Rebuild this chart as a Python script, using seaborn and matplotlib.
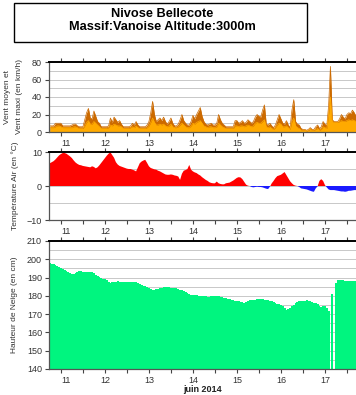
import numpy as np
import pandas as pd
import matplotlib
matplotlib.use("Agg")
import matplotlib.pyplot as plt
from matplotlib.patches import Rectangle
import seaborn as sns

# ---------------- data (hourly, hours counted from 11 June 2014 00:00) ----------------
hours = list(range(6, 174))

wind_max = [
    7, 7, 7, 10, 10, 10, 10, 7, 7, 7, 7, 7, 8, 9, 9, 7, 6, 6, 6,            # h6-24
    14, 22, 27, 16, 15, 24, 18, 12, 10, 6, 6, 6, 6, 7, 16, 11, 17, 14, 11, 13, 9, 6, 6, 6,  # h25-48
    6, 7, 10, 8, 12, 8, 6, 6, 6, 6, 8, 12, 22, 35, 20, 12, 14, 16, 13, 17, 12, 9, 12, 16,   # h49-72
    10, 7, 7, 9, 14, 20, 13, 10, 8, 8, 12, 19, 15, 20, 24, 28, 18, 12, 9, 8, 9, 10, 8, 8,   # h73-96
    10, 20, 14, 10, 8, 6, 6, 6, 6, 6, 13, 13, 10, 11, 13, 10, 11, 14, 12, 10, 12, 17, 20, 18,  # h97-120
    17, 25, 31, 9, 8, 10, 7, 5, 8, 14, 20, 15, 10, 9, 13, 8, 5, 25, 37, 12, 9, 8, 4, 3,     # h121-144
    3, 2, 3, 5, 3, 3, 6, 8, 4, 6, 12, 9, 7, 30, 75, 14, 12, 12, 12, 15, 20, 17, 15, 20,     # h145-168
    22, 21, 25, 22, 18,                                                                      # h169-173
]
wind_mean = [
    5, 5, 5, 6, 7, 7, 6, 5, 5, 5, 5, 5, 5, 6, 6, 5, 4, 4, 4,
    7, 11, 13, 9, 9, 12, 10, 8, 6, 4, 4, 4, 4, 5, 8, 7, 9, 8, 7, 7, 6, 4, 4, 4,
    4, 5, 6, 5, 7, 5, 4, 4, 4, 4, 5, 7, 11, 16, 11, 8, 8, 9, 8, 9, 7, 6, 7, 9,
    6, 5, 5, 6, 8, 10, 8, 6, 5, 5, 7, 10, 9, 11, 12, 13, 10, 7, 6, 5, 6, 6, 5, 5,
    6, 10, 8, 6, 5, 4, 4, 4, 4, 4, 7, 7, 6, 7, 7, 6, 7, 8, 7, 6, 7, 10, 11, 10,
    10, 12, 14, 6, 5, 6, 4, 3, 5, 8, 10, 9, 6, 6, 7, 5, 3, 12, 16, 7, 5, 4, 2, 2,
    2, 1, 2, 3, 2, 2, 3, 4, 2, 3, 6, 5, 4, 20, 40, 12, 11, 11, 11, 12, 13, 12, 12, 13,
    14, 13, 14, 13, 12,
]
temperature = [
    6.7, 7.0, 7.3, 7.8, 8.4, 9.0, 9.4, 9.7, 9.7, 9.5, 9.1, 8.7, 8.2, 7.5, 6.9, 6.5, 6.2, 6.1, 5.9,
    5.8, 5.7, 5.6, 5.5, 5.8, 5.6, 5.2, 5.5, 6.1, 6.8, 7.5, 8.2, 8.9, 9.5, 9.9, 9.1, 8.3, 7.0, 6.3, 5.9, 5.7, 5.5, 5.3, 5.1,
    5.0, 5.0, 4.8, 4.6, 4.3, 5.5, 6.7, 7.2, 7.5, 7.7, 6.8, 5.8, 5.3, 5.1, 4.9, 4.8, 4.5, 4.3, 4.0, 3.7, 3.4, 3.3, 3.3, 3.4,
    3.3, 3.1, 3.0, 2.8, 1.8, 3.6, 4.5, 4.7, 5.0, 6.2, 4.8, 4.3, 4.0, 3.8, 3.4, 3.1, 2.6, 2.2, 1.8, 1.5, 1.1, 0.9, 0.8, 0.8,
    1.3, 0.8, 0.6, 0.5, 0.5, 0.8, 0.9, 1.0, 1.3, 1.6, 2.0, 2.4, 2.6, 2.5, 2.0, 1.2, 0.4, 0.1, 0.0, -0.3, -0.4, -0.3, -0.2, -0.3,
    -0.3, -0.4, -0.6, -0.8, -0.9, -0.2, 0.8, 1.5, 2.3, 2.9, 3.1, 3.3, 3.7, 4.1, 3.2, 2.3, 1.4, 0.8, 0.3, 0.1, 0.0, -0.3, -0.7, -0.8,
    -0.9, -1.0, -1.2, -1.4, -1.6, -1.7, -0.7, -0.1, 1.5, 2.0, 1.5, 0.3, -0.4, -1.0, -1.2, -1.2, -1.2, -1.3, -1.4, -1.5, -1.6, -1.6, -1.7, -1.6,
    -1.4, -1.4, -1.3, -1.2, -1.2,
]
snow_depth = [
    197.8, 197.5, 197.2, 196.8, 196.5, 196.0, 195.3, 194.8, 194.2, 193.8, 193.0, 192.3, 192.0, 191.8, 192.5, 193.3, 193.6, 193.4, 193.2,
    193.2, 193.1, 193.1, 193.0, 193.0, 192.3, 191.5, 190.8, 190.2, 189.6, 189.3, 189.0, 188.7, 187.8, 187.2, 187.6, 187.8, 187.8, 187.9, 187.8, 187.8, 187.8, 187.8, 187.8,
    187.8, 187.8, 187.8, 187.8, 187.6, 187.0, 186.3, 186.0, 185.5, 185.2, 184.8, 184.2, 183.5, 183.2, 183.4, 183.7, 184.0, 184.2, 184.4, 184.6, 184.7, 184.7, 184.6, 184.5,
    184.4, 184.2, 184.1, 183.8, 183.4, 183.0, 182.4, 181.9, 181.4, 181.0, 180.7, 180.5, 180.3, 180.2, 180.0, 180.0, 179.9, 179.8, 179.7, 179.6, 179.6, 179.7, 179.9, 180.0,
    180.1, 179.8, 179.5, 179.2, 178.9, 178.6, 178.4, 178.1, 177.9, 177.6, 177.4, 177.2, 177.0, 176.8, 176.5, 176.3, 176.8, 177.4, 177.7, 177.8, 177.9, 178.0, 178.1, 178.2,
    178.4, 178.5, 178.0, 177.7, 177.5, 177.2, 177.0, 176.8, 176.3, 175.8, 175.5, 175.1, 174.6, 173.5, 172.3, 172.8, 173.6, 174.3, 175.2, 176.0, 176.6, 177.0, 177.4, 177.4,
    177.4, 177.5, 177.3, 177.0, 176.7, 176.3, 175.9, 175.3, 174.7, 174.1, 174.3, 174.5, 173.3, 171.7, np.nan, 181.0, np.nan, 187.0, 188.5, 188.7, 188.5, 188.4, 188.3, 188.3,
    188.3, 188.3, 188.3, 188.2, 188.2,
]
day_labels = ["11", "12", "13", "14", "15", "16", "17"]
title_lines = ["Nivose Bellecote", "Massif:Vanoise Altitude:3000m"]
month_label = "juin 2014"

assert len(hours) == len(wind_max) == len(wind_mean) == len(temperature) == len(snow_depth)

df = pd.DataFrame({"h": hours, "vmax": wind_max, "vmoy": wind_mean,
                   "temp": temperature, "snow": snow_depth})

# ---------------- style ----------------
sns.set_theme(style="white")
plt.rcParams["font.family"] = ["Liberation Sans", "DejaVu Sans"]

W, H = 356, 395
fig = plt.figure(figsize=(W / 100, H / 100), dpi=100)

def ax_rect(left, top, right, bottom):
    return [left / W, 1 - bottom / H, (right - left) / W, (bottom - top) / H]

ax1 = fig.add_axes(ax_rect(49, 62, 357, 132))
ax2 = fig.add_axes(ax_rect(49, 152, 357, 220))
ax3 = fig.add_axes(ax_rect(49, 241, 357, 369))

XMIN, XMAX = 5.5, 173.5
major_x = np.arange(12, 174, 12)
label_x = [(XMIN + 24) / 2] + [36 + 24 * i for i in range(6)]

grid_c = "#c8c8c8"
tick_c = "#333333"

# wind
ax1.fill_between(df["h"], df["vmax"], 0, color="#cc6a00", linewidth=0)
ax1.fill_between(df["h"], df["vmoy"], 0, color="#ffaa00", linewidth=0)
sns.lineplot(data=df, x="h", y="vmax", ax=ax1, color="#cc6a00", linewidth=0.5)
sns.lineplot(data=df, x="h", y="vmoy", ax=ax1, color="#ffaa00", linewidth=0.5)
ax1.set_ylim(0, 80)
ax1.set_yticks([0, 20, 40, 60, 80])
ax1.set_yticks([10, 30, 50, 70], minor=True)

# temperature
t = df["temp"].to_numpy()
ax2.fill_between(df["h"], t, 0, where=t >= 0, interpolate=True, color="#ff0000", linewidth=0)
ax2.fill_between(df["h"], t, 0, where=t <= 0, interpolate=True, color="#1a1aff", linewidth=0)
ax2.set_ylim(-10, 10)
ax2.set_yticks([-10, 0, 10])
ax2.set_yticks([-5, 5], minor=True)

# snow
ax3.bar(df["h"], df["snow"], width=1.08, color="#00f57f", linewidth=0, zorder=2)
ax3.set_ylim(140, 210)
ax3.set_yticks(np.arange(140, 211, 10))
ax3.set_yticks(np.arange(145, 210, 10), minor=True)

for ax in (ax1, ax2, ax3):
    ax.set_xlim(XMIN, XMAX)
    ax.xaxis.remove_overlapping_locs = False
    ax.set_xticks(major_x)
    ax.set_xticklabels([])
    ax.set_xticks(label_x, minor=True)
    ax.set_xticklabels(day_labels, minor=True)
    ax.tick_params(axis="x", which="major", direction="out", length=3, width=0.8,
                   color="#444444", top=True, bottom=True)
    ax.tick_params(axis="x", which="minor", length=0, pad=5, labelsize=6.5, labelcolor=tick_c,
                   top=False, bottom=True)
    ax.tick_params(axis="y", which="major", direction="out", length=3, width=0.8,
                   color="#444444", left=True, labelsize=6.5, labelcolor=tick_c, pad=2)
    ax.tick_params(axis="y", which="minor", length=0)
    ax.grid(False)
    ax.grid(True, axis="y", which="both", color=grid_c, linewidth=0.7)
    ax.set_axisbelow(True)
    for s in ("left", "bottom"):
        ax.spines[s].set_color("#555555")
        ax.spines[s].set_linewidth(0.9)
    ax.spines["top"].set_color("black")
    ax.spines["top"].set_linewidth(1.4)
    ax.spines["right"].set_visible(False)
    ax.set_xlabel("")
    ax.set_ylabel("")

# y labels
lab_kw = dict(rotation=90, ha="center", va="center", fontsize=6, color=tick_c)
fig.text(7.5 / W, 1 - 97 / H, "Vent moyen et", **lab_kw)
fig.text(19.5 / W, 1 - 97 / H, "Vent maxi (en km/h)", **lab_kw)
fig.text(15 / W, 1 - 186 / H, "Température Air (en °C)", **lab_kw)
fig.text(15 / W, 1 - 305 / H, "Hauteur de Neige (en cm)", **lab_kw)

fig.text(202 / W, 1 - 390 / H, month_label, ha="center", va="center",
         fontsize=6.5, fontweight="bold", color="#222222")

# title box
fig.patches.append(Rectangle((14 / W, 1 - 42 / H), 293 / W, 39 / H, transform=fig.transFigure,
                             facecolor="white", edgecolor="black", linewidth=1.0))
fig.text(162 / W, 1 - 14 / H, title_lines[0], ha="center", va="center",
         fontsize=9.2, fontweight="bold", color="black")
fig.text(162 / W, 1 - 27.5 / H, title_lines[1], ha="center", va="center",
         fontsize=9.2, fontweight="bold", color="black")

fig.savefig("out.png", dpi=100)
